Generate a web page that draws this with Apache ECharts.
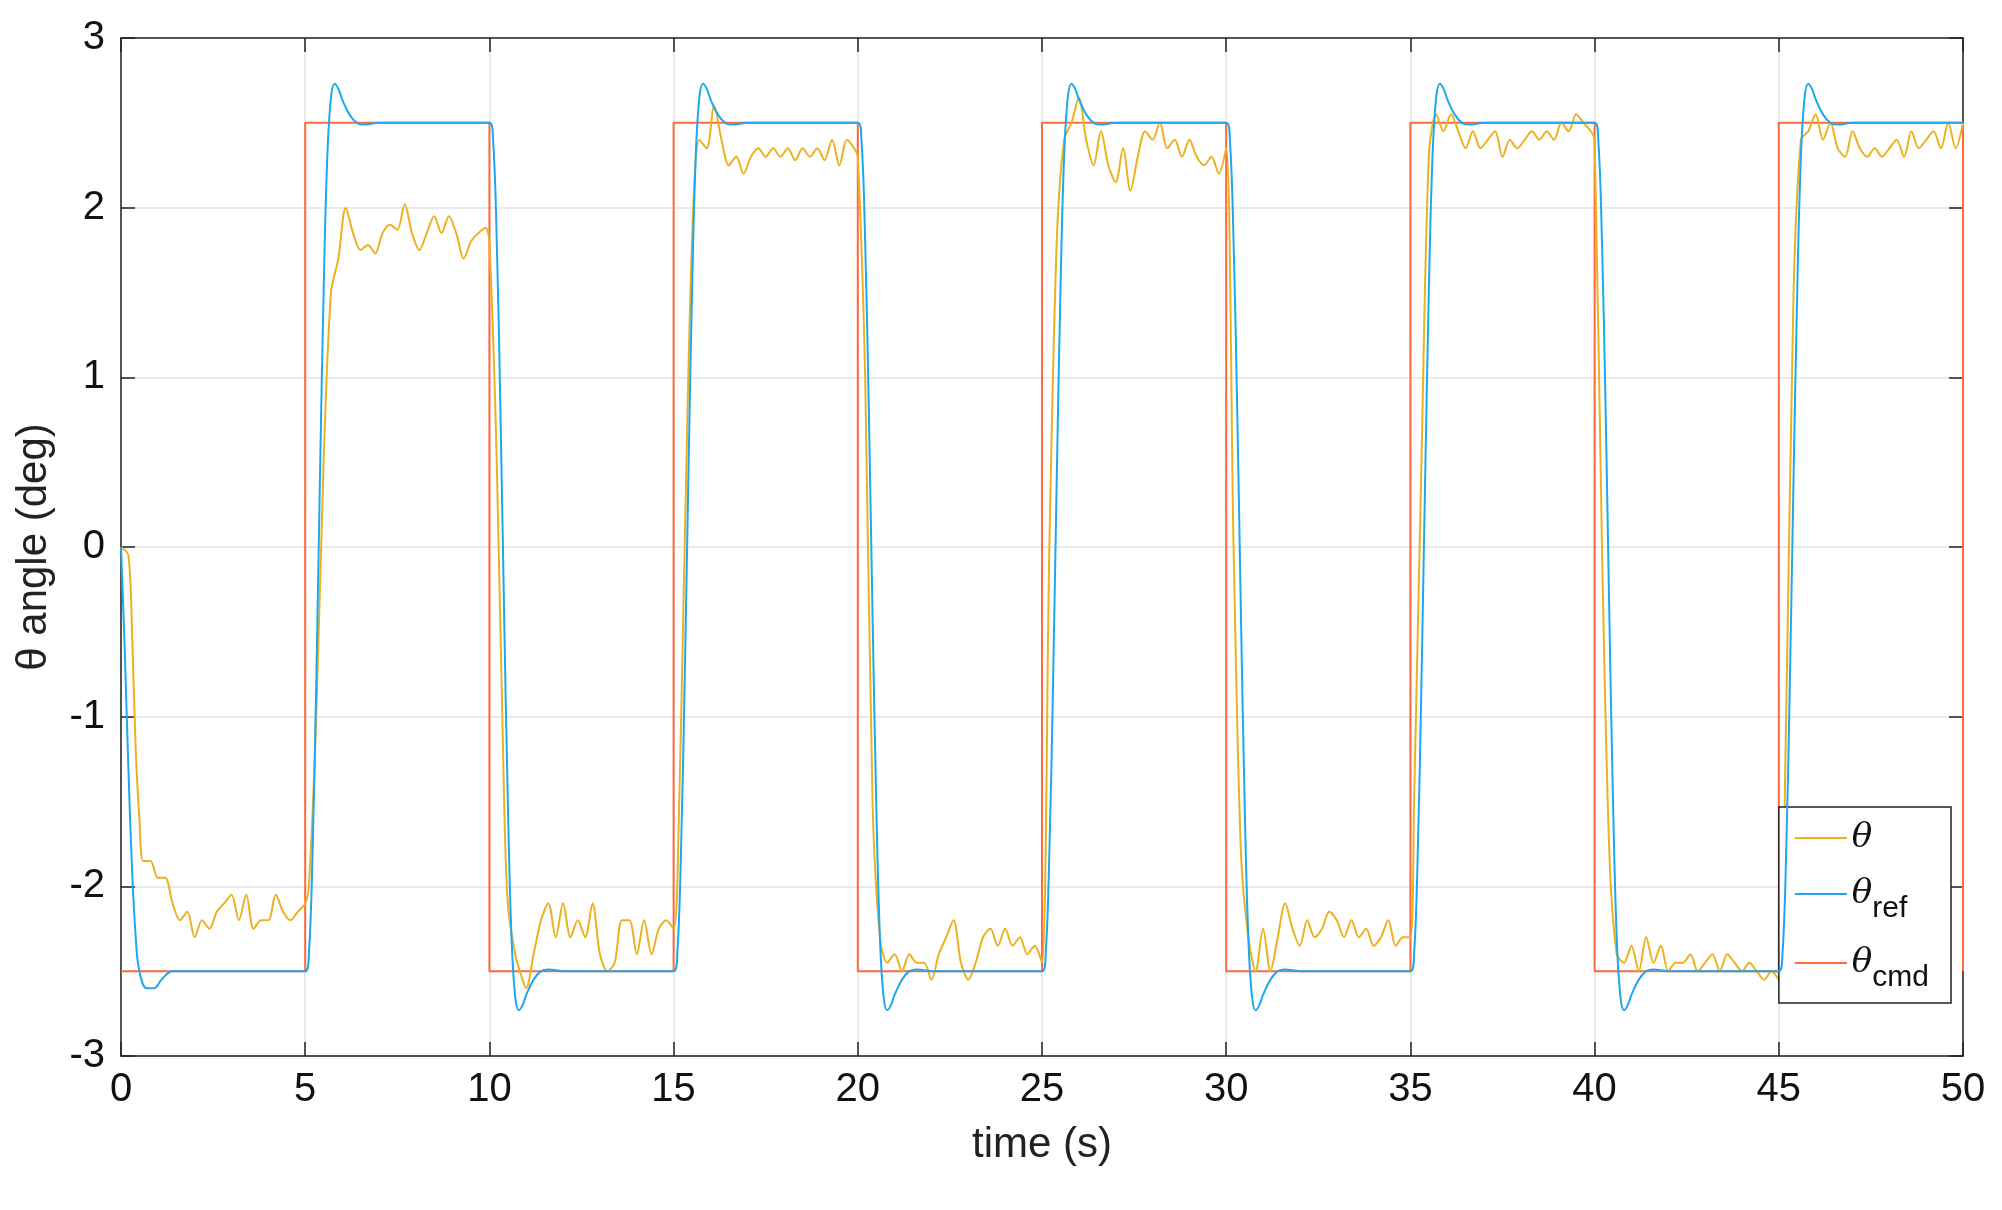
<!DOCTYPE html>
<html><head><meta charset="utf-8">
<script src="https://cdn.jsdelivr.net/npm/echarts@6/dist/echarts.min.js"></script>
<style>html,body{margin:0;padding:0;background:#fff}#c{width:2002px;height:1210px}</style>
</head><body><div id="c"></div>
<script>
const xTicks = [0,5,10,15,20,25,30,35,40,45,50];
const yTicks = [-3,-2,-1,0,1,2,3];
const cmd = [[0,-2.5],[5,-2.5],[5,2.5],[10,2.5],[10,-2.5],[15,-2.5],[15,2.5],[20,2.5],[20,-2.5],[25,-2.5],[25,2.5],[30,2.5],[30,-2.5],[35,-2.5],[35,2.5],[40,2.5],[40,-2.5],[45,-2.5],[45,2.5],[50,2.5],[50,-2.5]];
const ref = [
[0,0],[0.1,-0.6],[0.2,-1.3],[0.3,-1.9],[0.4,-2.3],[0.5,-2.5],[0.7,-2.6],[0.9,-2.6],[1.1,-2.55],[1.4,-2.5],[2,-2.5],[5,-2.5],
[5.1,-2.4],[5.2,-1.8],[5.3,-0.8],[5.4,0.4],[5.5,1.5],[5.6,2.3],[5.7,2.65],[5.8,2.73],[5.9,2.7],[6.0,2.64],[6.2,2.55],[6.4,2.5],[6.6,2.49],[7,2.5],[10,2.5],
[10.1,2.4],[10.2,1.8],[10.3,0.8],[10.4,-0.4],[10.5,-1.5],[10.6,-2.3],[10.7,-2.65],[10.8,-2.73],[10.9,-2.7],[11.0,-2.64],[11.2,-2.55],[11.4,-2.5],[11.6,-2.49],[12,-2.5],[15,-2.5],
[15.1,-2.4],[15.2,-1.8],[15.3,-0.8],[15.4,0.4],[15.5,1.5],[15.6,2.3],[15.7,2.65],[15.8,2.73],[15.9,2.7],[16.0,2.64],[16.2,2.55],[16.4,2.5],[16.6,2.49],[17,2.5],[20,2.5],
[20.1,2.4],[20.2,1.8],[20.3,0.8],[20.4,-0.4],[20.5,-1.5],[20.6,-2.3],[20.7,-2.65],[20.8,-2.73],[20.9,-2.7],[21.0,-2.64],[21.2,-2.55],[21.4,-2.5],[21.6,-2.49],[22,-2.5],[25,-2.5],
[25.1,-2.4],[25.2,-1.8],[25.3,-0.8],[25.4,0.4],[25.5,1.5],[25.6,2.3],[25.7,2.65],[25.8,2.73],[25.9,2.7],[26.0,2.64],[26.2,2.55],[26.4,2.5],[26.6,2.49],[27,2.5],[30,2.5],
[30.1,2.4],[30.2,1.8],[30.3,0.8],[30.4,-0.4],[30.5,-1.5],[30.6,-2.3],[30.7,-2.65],[30.8,-2.73],[30.9,-2.7],[31.0,-2.64],[31.2,-2.55],[31.4,-2.5],[31.6,-2.49],[32,-2.5],[35,-2.5],
[35.1,-2.4],[35.2,-1.8],[35.3,-0.8],[35.4,0.4],[35.5,1.5],[35.6,2.3],[35.7,2.65],[35.8,2.73],[35.9,2.7],[36.0,2.64],[36.2,2.55],[36.4,2.5],[36.6,2.49],[37,2.5],[40,2.5],
[40.1,2.4],[40.2,1.8],[40.3,0.8],[40.4,-0.4],[40.5,-1.5],[40.6,-2.3],[40.7,-2.65],[40.8,-2.73],[40.9,-2.7],[41.0,-2.64],[41.2,-2.55],[41.4,-2.5],[41.6,-2.49],[42,-2.5],[45,-2.5],
[45.1,-2.4],[45.2,-1.8],[45.3,-0.8],[45.4,0.4],[45.5,1.5],[45.6,2.3],[45.7,2.65],[45.8,2.73],[45.9,2.7],[46.0,2.64],[46.2,2.55],[46.4,2.5],[46.6,2.49],[47,2.5],[50,2.5]];
const theta = [
[0,0],[0.2,-0.05],[0.3,-0.5],[0.4,-1.2],[0.5,-1.6],[0.6,-1.85],[0.8,-1.85],[1,-1.95],[1.2,-1.95],[1.4,-2.1],[1.6,-2.2],[1.8,-2.15],[2,-2.3],[2.2,-2.2],[2.4,-2.25],[2.6,-2.15],[2.8,-2.1],[3,-2.05],[3.2,-2.2],[3.4,-2.05],[3.6,-2.25],[3.8,-2.2],[4,-2.2],[4.2,-2.05],[4.4,-2.15],[4.6,-2.2],[4.8,-2.15],[5,-2.1],
[5.1,-2.0],[5.3,-1.0],[5.5,0.5],[5.7,1.5],[5.9,1.7],[6.1,2.0],[6.3,1.85],[6.5,1.75],[6.7,1.78],[6.9,1.73],[7.1,1.85],[7.3,1.9],[7.5,1.87],[7.7,2.02],[7.9,1.85],[8.1,1.75],[8.3,1.85],[8.5,1.95],[8.7,1.85],[8.9,1.95],[9.1,1.85],[9.3,1.7],[9.5,1.8],[9.7,1.85],[9.9,1.88],[10,1.8],
[10.2,0.5],[10.4,-1.5],[10.5,-2.1],[10.7,-2.4],[10.9,-2.55],[11.0,-2.6],[11.2,-2.4],[11.4,-2.2],[11.6,-2.1],[11.8,-2.3],[12,-2.1],[12.2,-2.3],[12.4,-2.2],[12.6,-2.3],[12.8,-2.1],[13,-2.4],[13.2,-2.5],[13.4,-2.45],[13.6,-2.2],[13.8,-2.2],[14,-2.4],[14.2,-2.2],[14.4,-2.4],[14.6,-2.25],[14.8,-2.2],[15,-2.25],
[15.1,-2.0],[15.3,0],[15.5,1.8],[15.7,2.4],[15.9,2.35],[16.1,2.6],[16.3,2.4],[16.5,2.25],[16.7,2.3],[16.9,2.2],[17.1,2.3],[17.3,2.35],[17.5,2.3],[17.7,2.35],[17.9,2.3],[18.1,2.35],[18.3,2.28],[18.5,2.35],[18.7,2.3],[18.9,2.35],[19.1,2.28],[19.3,2.4],[19.5,2.25],[19.7,2.4],[19.9,2.35],[20,2.3],
[20.2,1.0],[20.4,-1.5],[20.6,-2.3],[20.8,-2.45],[21.0,-2.4],[21.2,-2.5],[21.4,-2.4],[21.6,-2.45],[21.8,-2.45],[22,-2.55],[22.2,-2.4],[22.4,-2.3],[22.6,-2.2],[22.8,-2.45],[23,-2.55],[23.2,-2.45],[23.4,-2.3],[23.6,-2.25],[23.8,-2.35],[24,-2.25],[24.2,-2.35],[24.4,-2.3],[24.6,-2.4],[24.8,-2.35],[25,-2.45],
[25.2,0],[25.4,1.8],[25.6,2.4],[25.8,2.5],[26,2.65],[26.2,2.4],[26.4,2.25],[26.6,2.45],[26.8,2.25],[27,2.15],[27.2,2.35],[27.4,2.1],[27.6,2.3],[27.8,2.45],[28,2.4],[28.2,2.5],[28.4,2.35],[28.6,2.4],[28.8,2.3],[29,2.4],[29.2,2.3],[29.4,2.25],[29.6,2.3],[29.8,2.2],[30,2.35],
[30.2,0],[30.4,-1.8],[30.6,-2.3],[30.8,-2.5],[31,-2.25],[31.2,-2.5],[31.4,-2.3],[31.6,-2.1],[31.8,-2.25],[32,-2.35],[32.2,-2.2],[32.4,-2.3],[32.6,-2.25],[32.8,-2.15],[33,-2.2],[33.2,-2.3],[33.4,-2.2],[33.6,-2.3],[33.8,-2.25],[34,-2.35],[34.2,-2.3],[34.4,-2.2],[34.6,-2.35],[34.8,-2.3],[35,-2.3],
[35.1,-1.5],[35.3,0.5],[35.5,2.3],[35.7,2.55],[35.9,2.45],[36.1,2.55],[36.3,2.45],[36.5,2.35],[36.7,2.45],[36.9,2.35],[37.1,2.4],[37.3,2.45],[37.5,2.3],[37.7,2.4],[37.9,2.35],[38.1,2.4],[38.3,2.45],[38.5,2.4],[38.7,2.45],[38.9,2.4],[39.1,2.5],[39.3,2.45],[39.5,2.55],[39.7,2.5],[39.9,2.45],[40,2.4],
[40.2,0],[40.4,-1.8],[40.6,-2.4],[40.8,-2.45],[41,-2.35],[41.2,-2.5],[41.4,-2.3],[41.6,-2.45],[41.8,-2.35],[42,-2.5],[42.2,-2.45],[42.4,-2.45],[42.6,-2.4],[42.8,-2.5],[43,-2.45],[43.2,-2.4],[43.4,-2.5],[43.6,-2.4],[43.8,-2.45],[44,-2.5],[44.2,-2.45],[44.4,-2.5],[44.6,-2.55],[44.8,-2.5],[45,-2.55],
[45.2,-1],[45.4,1.5],[45.6,2.4],[45.8,2.45],[46,2.55],[46.2,2.4],[46.4,2.5],[46.6,2.35],[46.8,2.3],[47,2.45],[47.2,2.35],[47.4,2.3],[47.6,2.35],[47.8,2.3],[48,2.35],[48.2,2.4],[48.4,2.3],[48.6,2.45],[48.8,2.35],[49,2.4],[49.2,2.45],[49.4,2.35],[49.6,2.5],[49.8,2.35],[50,2.5]];

const F = 'Liberation Sans, Arial, sans-serif';
const chart = echarts.init(document.getElementById('c'));
const axLine = {show:true, onZero:false, lineStyle:{color:'#222', width:1.5}};
const tick = {inside:true,length:14,lineStyle:{color:'#222',width:1.5}};
chart.setOption({
  animation:false,
  grid:{left:121,right:39,top:38,bottom:154},
  legend:{
    orient:'vertical', right:51, top:807, width:157,
    backgroundColor:'#fff', borderColor:'#222', borderWidth:1.5,
    padding:[14,22,10,16], itemGap:22, itemWidth:52, itemHeight:2, icon:'rect',
    textStyle:{color:'#111', fontFamily:F, fontSize:30,
      rich:{t:{fontFamily:'DejaVu Serif', fontStyle:'italic', fontSize:34, color:'#111'},
            s:{fontSize:30, fontFamily:F, color:'#111', padding:[30,0,0,0]}}},
    formatter:function(n){
      if(n==='theta') return '{t|θ}';
      if(n==='ref') return '{t|θ}{s|ref}';
      return '{t|θ}{s|cmd}';
    },
    data:['theta','ref','cmd']
  },
  xAxis:[{type:'value',min:0,max:50,interval:5,
    name:'time (s)',nameLocation:'middle',nameGap:68,
    nameTextStyle:{fontFamily:F,fontSize:42,color:'#222'},
    axisLine:axLine, axisTick:tick,
    axisLabel:{fontFamily:F,fontSize:40,color:'#111',margin:14},
    splitLine:{show:true,lineStyle:{color:'#e3e3e3',width:1.5}}},
   {type:'value',position:'top',min:0,max:50,interval:5,axisLine:axLine,
    axisTick:tick,axisLabel:{show:false},splitLine:{show:false}}],
  yAxis:[{type:'value',min:-3,max:3,interval:1,
    name:'θ angle (deg)',nameLocation:'middle',nameGap:66,
    nameTextStyle:{fontFamily:F,fontSize:42,color:'#222'},
    axisLine:axLine, axisTick:tick,
    axisLabel:{fontFamily:F,fontSize:40,color:'#111',margin:16},
    splitLine:{show:true,lineStyle:{color:'#e3e3e3',width:1.5}}},
   {type:'value',position:'right',min:-3,max:3,interval:1,axisLine:axLine,
    axisTick:tick,axisLabel:{show:false},splitLine:{show:false}}],
  series:[
    {name:'theta',type:'line',data:theta,showSymbol:false,smooth:0.3,lineStyle:{color:'#EDB120',width:2},itemStyle:{color:'#EDB120'},z:3},
    {name:'ref',type:'line',data:ref,showSymbol:false,smooth:0.4,lineStyle:{color:'#1EA7F0',width:2},itemStyle:{color:'#1EA7F0'},z:4},
    {name:'cmd',type:'line',data:cmd,showSymbol:false,lineStyle:{color:'#FF6A3D',width:2},itemStyle:{color:'#FF6A3D'},z:2}
  ]
});
</script></body></html>
